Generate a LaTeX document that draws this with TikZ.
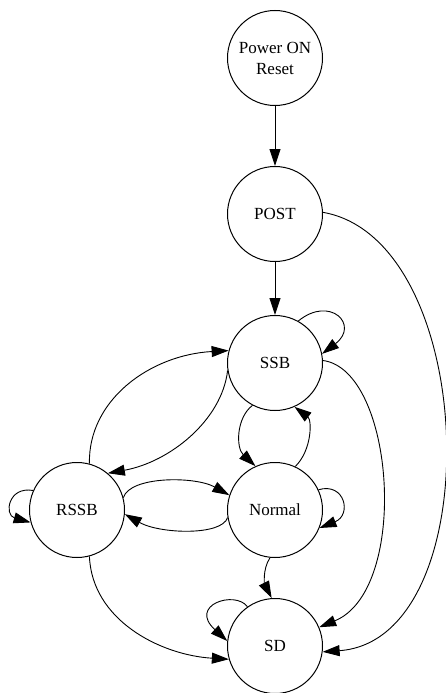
\documentclass[tikz,border=0pt]{standalone}
\usepackage{fontspec}
\setmainfont{Liberation Serif}
\usetikzlibrary{arrows.meta}

\begin{document}
\begin{tikzpicture}[
  x=1pt, y=-1pt,
  font=\fontsize{17}{21}\selectfont,
  state/.style={draw, circle, line width=1pt, minimum size=95pt, inner sep=0pt, align=center},
  >={Triangle[length=17pt, width=11pt]},
  every path/.append style={line width=0.9pt},
]
\useasboundingbox (0,0) rectangle (446,693);

\node[state] (pwr) at (275,58) {Power ON\\Reset};
\node[state] (post) at (275,214) {POST};
\node[state] (ssb) at (275,363) {SSB};
\node[state] (rssb) at (77,510) {RSSB};
\node[state] (norm) at (275,510) {Normal};
\node[state] (sd) at (275,646) {SD};

\draw[->] (pwr) -- (post);
\draw[->] (post) -- (ssb);
\draw[->] (post.2) .. controls (480,240) and (490,640) .. (sd.-7);
\draw[->] (ssb.61) .. controls (330,295) and (360,325) .. (ssb.11);
\draw[->] (ssb.3) .. controls (395,370) and (410,590) .. (sd.23);
\draw[->] (ssb.189) .. controls (222,420) and (170,462) .. (rssb.50);
\draw[->] (rssb.75) .. controls (88,400) and (150,355) .. (ssb.165);
\draw[->] (ssb.242) .. controls (236,418) and (236,448) .. (norm.114);
\draw[->] (norm.65) .. controls (312,450) and (312,420) .. (ssb.294);
\draw[->] (rssb.15) .. controls (130,476) and (195,476) .. (norm.162);
\draw[->] (norm.189) .. controls (222,536) and (160,534) .. (rssb.-5);
\draw[->] (norm.25) .. controls (345,482) and (352,515) .. (norm.-22);
\draw[->] (rssb.156) .. controls (8,486) and (4,515) .. (rssb.195);
\draw[->] (norm.264) .. controls (262,570) and (265,585) .. (sd.94);
\draw[->] (rssb.285) .. controls (92,620) and (160,655) .. (sd.196);
\draw[->] (sd.125) .. controls (235,590) and (188,605) .. (sd.174);
\end{tikzpicture}
\end{document}
